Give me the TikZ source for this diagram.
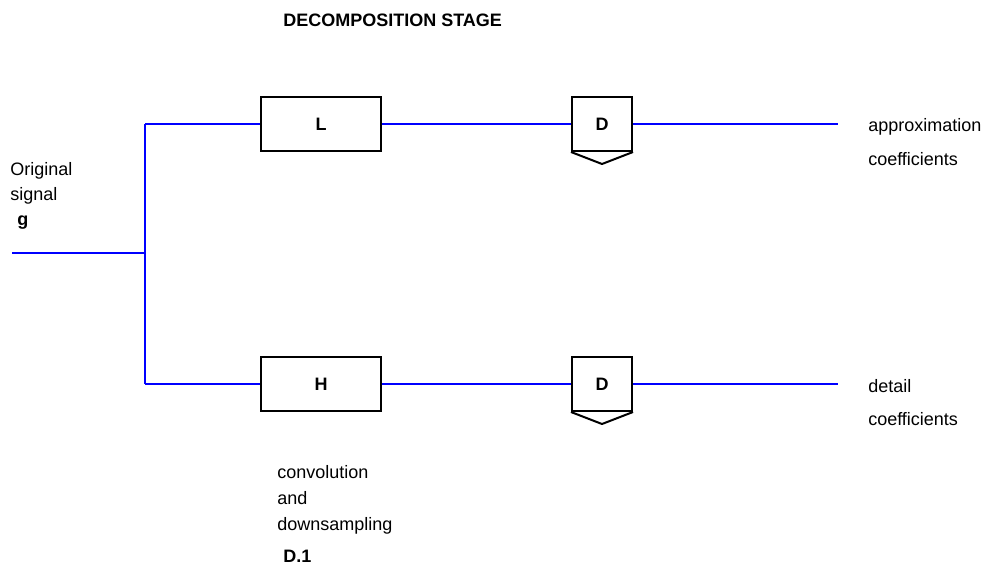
\documentclass[tikz,border=0pt]{standalone}
\usepackage{fontspec}
\setmainfont{Liberation Sans}
\definecolor{wireblue}{RGB}{0,0,255}
\tikzset{
  wire/.style={draw=wireblue, line width=1.3pt},
  filterbox/.style={draw, line width=1.5pt, minimum width=90pt, minimum height=40.5pt, inner sep=0pt, font=\fontsize{13.5pt}{16pt}\selectfont\bfseries},
  downbox/.style={draw, line width=1.5pt, minimum width=45pt, minimum height=40.5pt, inner sep=0pt, font=\fontsize{13.5pt}{16pt}\selectfont\bfseries},
  lbl/.style={anchor=base west, inner sep=0pt, font=\fontsize{13.5pt}{16pt}\selectfont},
  lblbf/.style={lbl, font=\fontsize{13.5pt}{16pt}\selectfont\bfseries}
}
\begin{document}
\begin{tikzpicture}[x=0.75pt,y=0.75pt,yscale=-1,xscale=1]
\path (0,0) rectangle (985,567); %set diagram size

%Shape: Rectangle [filters]
\node[filterbox] (filtL) at (321,124) {L};
\node[filterbox] (filtH) at (321,384) {H};
%Shape: Rectangle [downsamplers]
\node[downbox] (downA) at (602,124) {D};
\node[downbox] (downD) at (602,384) {D};
\draw[line width=1.5pt, line join=round] (downA.south west) -- ([yshift=9pt]downA.south) -- (downA.south east);
\draw[line width=1.5pt, line join=round] (downD.south west) -- ([yshift=9pt]downD.south) -- (downD.south east);

%Straight Lines [input and split]
\coordinate (in) at (12,253);
\coordinate (split) at (145,253);
\coordinate (top) at (145,124);
\coordinate (bot) at (145,384);
\coordinate (outA) at (838,124);
\coordinate (outD) at (838,384);
\draw[wire] (in) -- (split);
\draw[wire] (top) -- (bot);
\draw[wire] (top) -- (filtL.west);
\draw[wire] (bot) -- (filtH.west);
\draw[wire] (filtL.east) -- (downA.west);
\draw[wire] (filtH.east) -- (downD.west);
\draw[wire] (downA.east) -- (outA);
\draw[wire] (downD.east) -- (outD);

% Text Node
\node[lblbf] (title) at (283,27) {DECOMPOSITION STAGE};
% Text Node
\node[lbl] (orig) at (10,175) {Original};
\node[lbl] (sig) at (10,200) {signal};
\node[lblbf] (gsym) at (17,225) {g};
% Text Node
\node[lbl] (approx) at (868,131) {approximation};
\node[lbl] (coefA) at (868,165) {coefficients};
% Text Node
\node[lbl] (detail) at (868,392) {detail};
\node[lbl] (coefD) at (868,425) {coefficients};
% Text Node
\node[lbl] (conv) at (277,478) {convolution};
\node[lbl] (andw) at (277,504) {and};
\node[lbl] (downs) at (277,530) {downsampling};
\node[lblbf] (fig) at (283,562) {D.1};

\end{tikzpicture}
\end{document}
